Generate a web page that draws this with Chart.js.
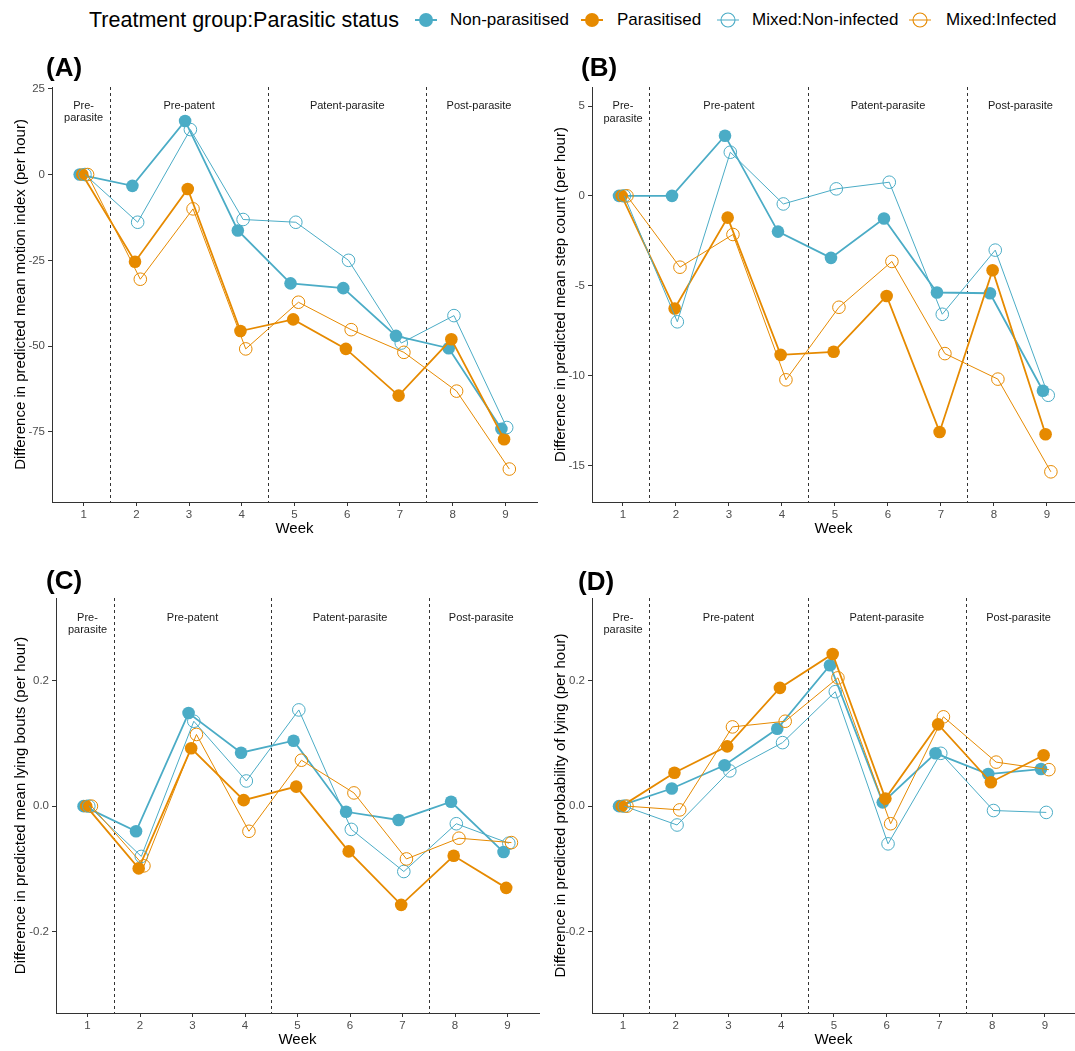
<!DOCTYPE html>
<html>
<head>
<meta charset="utf-8">
<script src="https://cdn.jsdelivr.net/npm/chart.js@4/dist/chart.umd.min.js"></script>
<style>
  html, body { margin: 0; padding: 0; background: #fff; }
  body { width: 1075px; height: 1051px; position: relative; overflow: hidden;
         font-family: "Liberation Sans", Arial, sans-serif; }
  canvas { position: absolute; }
  .lg { position: absolute; top: 0; height: 40px; line-height: 40px; white-space: nowrap; color: #000; }
  .lg-title { font-size: 21.5px; }
  .lg-item { font-size: 17px; }
  .lg-icon { position: absolute; top: 9px; }
</style>
</head>
<body>
<div id="legend"></div>
<canvas id="pA" width="540" height="500" style="left:0;top:40px"></canvas>
<canvas id="pB" width="535" height="500" style="left:540px;top:40px"></canvas>
<canvas id="pC" width="540" height="506" style="left:0;top:545px"></canvas>
<canvas id="pD" width="535" height="506" style="left:540px;top:545px"></canvas>
<script>
// Weeks of the trial
const weeks = [1, 2, 3, 4, 5, 6, 7, 8, 9];

// Series (treatment group : parasitic status)
const seriesNames = ['Non-parasitised', 'Parasitised', 'Mixed:Non-infected', 'Mixed:Infected'];

// Phase annotations
const phaseNames = [['Pre-', 'parasite'], ['Pre-patent'], ['Patent-parasite'], ['Post-parasite']];
const phaseWeeks = [1, 3, 6, 8.5];
const phaseBreaks = [1.5, 4.5, 7.5];

// (A) Difference in predicted mean motion index (per hour)
const motionNonParasitised = [0, -3.3, 15.6, -16.3, -31.7, -33.1, -47.0, -50.6, -74.1];
const motionParasitised    = [0, -25.4, -4.2, -45.6, -42.2, -50.8, -64.4, -48.0, -77.1];
const motionMixedNonInf    = [0, -13.9, 13.1, -13.1, -13.9, -25.0, -49.1, -41.1, -73.7];
const motionMixedInf       = [0, -30.5, -10.0, -50.8, -37.2, -45.2, -51.8, -63.1, -85.8];
const motionTicks = [25, 0, -25, -50, -75];

// (B) Difference in predicted mean step count (per hour)
const stepNonParasitised = [0, 0.0, 3.35, -1.99, -3.45, -1.26, -5.38, -5.42, -10.85];
const stepParasitised    = [0, -6.27, -1.21, -8.85, -8.68, -5.57, -13.14, -4.14, -13.27];
const stepMixedNonInf    = [0, -7.01, 2.43, -0.45, 0.39, 0.76, -6.59, -3.02, -11.1];
const stepMixedInf       = [0, -3.97, -2.15, -10.24, -6.2, -3.65, -8.78, -10.2, -15.36];
const stepTicks = [5, 0, -5, -10, -15];

// (C) Difference in predicted mean lying bouts (per hour)
const boutsNonParasitised = [0, -0.040, 0.148, 0.085, 0.104, -0.009, -0.022, 0.007, -0.073];
const boutsParasitised    = [0, -0.099, 0.092, 0.0095, 0.031, -0.072, -0.157, -0.079, -0.130];
const boutsMixedNonInf    = [0, -0.080, 0.135, 0.040, 0.153, -0.037, -0.104, -0.028, -0.059];
const boutsMixedInf       = [0, -0.095, 0.114, -0.040, 0.073, 0.021, -0.084, -0.051, -0.058];
const boutsTicks = [0.2, 0.0, -0.2];

// (D) Difference in predicted probability of lying (per hour)
const lyingNonParasitised = [0, 0.028, 0.065, 0.123, 0.224, 0.006, 0.084, 0.051, 0.059];
const lyingParasitised    = [0, 0.053, 0.095, 0.188, 0.242, 0.012, 0.130, 0.038, 0.081];
const lyingMixedNonInf    = [0, -0.030, 0.056, 0.101, 0.182, -0.060, 0.084, -0.007, -0.010];
const lyingMixedInf       = [0, -0.006, 0.126, 0.135, 0.204, -0.028, 0.142, 0.070, 0.058];
const lyingTicks = [0.2, 0.0, -0.2];

const BLUE = '#4BACC6';
const ORANGE = '#E68A00';
const seriesColors = [BLUE, ORANGE, BLUE, ORANGE];
const seriesFilled = [true, true, false, false];
// horizontal dodge so overlapping points stay visible
const dodge = [-0.075, -0.025, 0.025, 0.075];

const FONT = '"Liberation Sans", Arial, sans-serif';

// ---------- legend ----------
(function buildLegend() {
  const lg = document.getElementById('legend');
  const t = document.createElement('div');
  t.className = 'lg lg-title';
  t.style.left = '89px';
  t.textContent = 'Treatment group:Parasitic status';
  lg.appendChild(t);
  const iconX = [426, 592, 728, 920];
  const textX = [450, 617, 752, 946];
  seriesNames.forEach((name, i) => {
    const c = seriesColors[i];
    const svg = document.createElementNS('http://www.w3.org/2000/svg', 'svg');
    svg.setAttribute('width', '24');
    svg.setAttribute('height', '22');
    svg.setAttribute('class', 'lg-icon');
    svg.style.left = (iconX[i] - 12) + 'px';
    const line = document.createElementNS(svg.namespaceURI, 'line');
    line.setAttribute('x1', '1'); line.setAttribute('x2', '23');
    line.setAttribute('y1', '11'); line.setAttribute('y2', '11');
    line.setAttribute('stroke', c);
    line.setAttribute('stroke-width', seriesFilled[i] ? '2' : '1');
    svg.appendChild(line);
    const circ = document.createElementNS(svg.namespaceURI, 'circle');
    circ.setAttribute('cx', '12'); circ.setAttribute('cy', '11'); circ.setAttribute('r', '7');
    if (seriesFilled[i]) { circ.setAttribute('fill', c); }
    else { circ.setAttribute('fill', 'none'); circ.setAttribute('stroke', c); circ.setAttribute('stroke-width', '1.1'); }
    svg.appendChild(circ);
    lg.appendChild(svg);
    const s = document.createElement('div');
    s.className = 'lg lg-item';
    s.style.left = textX[i] + 'px';
    s.textContent = name;
    lg.appendChild(s);
  });
})();

// ---------- panel decorations: phase breaks, phase names, panel letter ----------
const panelDecor = {
  id: 'panelDecor',
  beforeDatasetsDraw(chart, args, opts) {
    const { ctx, chartArea: a, scales: { x, y } } = chart;
    ctx.save();
    ctx.strokeStyle = '#333';
    ctx.lineWidth = 1;
    ctx.setLineDash([3, 3]);
    phaseBreaks.forEach(b => {
      const px = Math.round(x.getPixelForValue(b)) + 0.5;
      ctx.beginPath();
      ctx.moveTo(px, a.top);
      ctx.lineTo(px, a.bottom);
      ctx.stroke();
    });
    ctx.setLineDash([]);
    ctx.fillStyle = '#1a1a1a';
    ctx.font = '11px ' + FONT;
    ctx.textAlign = 'center';
    ctx.textBaseline = 'middle';
    const py = y.getPixelForValue(opts.phaseY);
    phaseNames.forEach((lines, i) => {
      const px = x.getPixelForValue(phaseWeeks[i]);
      lines.forEach((ln, j) => ctx.fillText(ln, px, py + j * 12.5));
    });
    ctx.restore();
  },
  afterDraw(chart, args, opts) {
    const { ctx } = chart;
    ctx.save();
    ctx.fillStyle = '#000';
    ctx.font = 'bold 26px ' + FONT;
    ctx.textAlign = 'left';
    ctx.textBaseline = 'alphabetic';
    ctx.fillText(opts.letter, opts.letterX, opts.letterY);
    ctx.restore();
  }
};

function makePanel(id, p) {
  const series = [p.s0, p.s1, p.s2, p.s3];
  const datasets = series.map((vals, k) => ({
    label: seriesNames[k],
    data: weeks.map((w, i) => ({ x: w + dodge[k], y: vals[i] })),
    borderColor: seriesColors[k],
    backgroundColor: seriesColors[k],
    borderWidth: seriesFilled[k] ? 1.8 : 1,
    pointRadius: 6.3,
    pointHoverRadius: 6.3,
    pointBackgroundColor: seriesFilled[k] ? seriesColors[k] : 'rgba(255,255,255,0)',
    pointBorderColor: seriesColors[k],
    pointBorderWidth: seriesFilled[k] ? 0 : 1,
    tension: 0,
    fill: false,
    clip: false,
    order: 4 - k
  }));
  return new Chart(document.getElementById(id), {
    type: 'line',
    data: { datasets },
    plugins: [panelDecor],
    options: {
      responsive: false,
      animation: false,
      devicePixelRatio: 1,
      layout: { autoPadding: false, padding: { top: p.padTop, right: p.padRight, left: 0, bottom: 0 } },
      plugins: {
        legend: { display: false },
        tooltip: { enabled: false },
        panelDecor: { phaseY: p.phaseY, letter: p.letter, letterX: p.letterX, letterY: p.letterY }
      },
      scales: {
        x: {
          type: 'linear', min: p.xMin, max: p.xMax,
          afterBuildTicks: s => { s.ticks = weeks.map(v => ({ value: v })); },
          afterFit: s => { s.height = 38; },
          grid: { drawOnChartArea: false, drawTicks: true, tickLength: 4, color: '#333', lineWidth: 1 },
          border: { color: '#333', width: 1 },
          ticks: { color: '#4d4d4d', font: { family: FONT, size: 11.5 }, padding: 2, maxRotation: 0,
                   callback: v => String(v) },
          title: { display: true, text: 'Week', color: '#000', font: { family: FONT, size: 15 },
                   padding: { top: 0, bottom: 2 } }
        },
        y: {
          type: 'linear', min: p.yMin, max: p.yMax,
          afterBuildTicks: s => { s.ticks = p.ticks.map(v => ({ value: v })); },
          afterFit: s => { s.width = p.yWidth; },
          grid: { drawOnChartArea: false, drawTicks: true, tickLength: 4, color: '#333', lineWidth: 1 },
          border: { color: '#333', width: 1 },
          ticks: { color: '#4d4d4d', font: { family: FONT, size: 11.5 }, padding: 3,
                   callback: v => p.fmt(v) },
          title: { display: true, text: p.yTitle, color: '#000', font: { family: FONT, size: 15 },
                   padding: { top: 12, bottom: 0 } }
        }
      }
    }
  });
}

const intFmt = v => String(Math.round(v));
const decFmt = v => v.toFixed(1);

makePanel('pA', {
  s0: motionNonParasitised, s1: motionParasitised, s2: motionMixedNonInf, s3: motionMixedInf,
  ticks: motionTicks, fmt: intFmt, yMin: -95.4, yMax: 25.5, xMin: 0.4, xMax: 9.6,
  yWidth: 52, padTop: 47, padRight: 3, phaseY: 20,
  yTitle: 'Difference in predicted mean motion index (per hour)',
  letter: '(A)', letterX: 46, letterY: 36
});
makePanel('pB', {
  s0: stepNonParasitised, s1: stepParasitised, s2: stepMixedNonInf, s3: stepMixedInf,
  ticks: stepTicks, fmt: intFmt, yMin: -17.04, yMax: 6.06, xMin: 0.415, xMax: 9.53,
  yWidth: 52, padTop: 47, padRight: 0, phaseY: 5,
  yTitle: 'Difference in predicted mean step count (per hour)',
  letter: '(B)', letterX: 41, letterY: 36
});
makePanel('pC', {
  s0: boutsNonParasitised, s1: boutsParasitised, s2: boutsMixedNonInf, s3: boutsMixedInf,
  ticks: boutsTicks, fmt: decFmt, yMin: -0.329, yMax: 0.331, xMin: 0.4, xMax: 9.6,
  yWidth: 56, padTop: 53, padRight: 1, phaseY: 0.3,
  yTitle: 'Difference in predicted mean lying bouts (per hour)',
  letter: '(C)', letterX: 46, letterY: 44
});
makePanel('pD', {
  s0: lyingNonParasitised, s1: lyingParasitised, s2: lyingMixedNonInf, s3: lyingMixedInf,
  ticks: lyingTicks, fmt: decFmt, yMin: -0.329, yMax: 0.331, xMin: 0.412, xMax: 9.57,
  yWidth: 52, padTop: 53, padRight: 0, phaseY: 0.3,
  yTitle: 'Difference in predicted probability of lying (per hour)',
  letter: '(D)', letterX: 38, letterY: 45
});
</script>
</body>
</html>
